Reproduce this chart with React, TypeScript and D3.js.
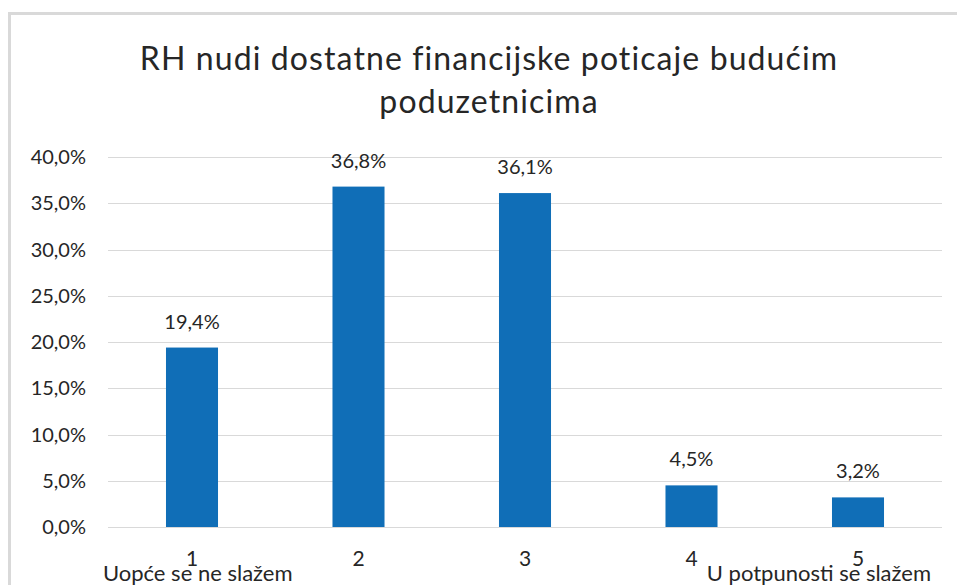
import React, { useRef, useEffect } from "react";
import * as d3 from "d3";

const categories = ["1", "2", "3", "4", "5"];
const values = [19.4, 36.8, 36.1, 4.5, 3.2];
const yTicks = [0, 5, 10, 15, 20, 25, 30, 35, 40];
const titleLines = ["RH nudi dostatne financijske poticaje budućim", "poduzetnicima"];
const endLabels = ["Uopće se ne slažem", "U potpunosti se slažem"];

const fmt = (v: number) => v.toFixed(1).replace(".", ",") + "%";

const App = () => {
  const ref = useRef<SVGSVGElement>(null);
  const width = 957;
  const height = 585;
  const font = "Lato, 'Open Sans', sans-serif";
  const ink = "#262626";

  useEffect(() => {
    const svg = d3.select(ref.current);
    svg.selectAll("*").remove();

    svg.append("rect").attr("width", width).attr("height", height).attr("fill", "#fff");

    // chart border (only left/top visible in crop)
    svg
      .append("rect")
      .attr("x", 9.5)
      .attr("y", 13.5)
      .attr("width", 1000)
      .attr("height", 700)
      .attr("fill", "none")
      .attr("stroke", "#d9d9d9")
      .attr("stroke-width", 3);

    const x = d3.scaleBand().domain(categories).range([108.75, 941.25]).paddingInner(0.6875).paddingOuter(0.34375);
    const y = d3.scaleLinear().domain([0, 40]).range([527, 157]);

    const g = svg.append("g");

    g.selectAll(".grid")
      .data(yTicks)
      .enter()
      .append("line")
      .attr("x1", 108)
      .attr("x2", 942)
      .attr("y1", (d) => Math.round(y(d)) + 0.5)
      .attr("y2", (d) => Math.round(y(d)) + 0.5)
      .attr("stroke", "#d9d9d9")
      .attr("stroke-width", 1);

    g.selectAll(".ylab")
      .data(yTicks)
      .enter()
      .append("text")
      .attr("x", 86)
      .attr("y", (d) => y(d) + 7)
      .attr("text-anchor", "end")
      .attr("font-family", font)
      .attr("font-size", 20)
      .attr("fill", ink)
      .text((d) => fmt(d));

    g.selectAll(".bar")
      .data(values)
      .enter()
      .append("rect")
      .attr("x", (_, i) => x(categories[i])!)
      .attr("width", x.bandwidth())
      .attr("y", (d) => y(d))
      .attr("height", (d) => y(0) - y(d))
      .attr("fill", "#106EB7");

    g.selectAll(".val")
      .data(values)
      .enter()
      .append("text")
      .attr("x", (_, i) => x(categories[i])! + x.bandwidth() / 2)
      .attr("y", (d) => y(d) - 19)
      .attr("text-anchor", "middle")
      .attr("font-family", font)
      .attr("font-size", 20)
      .attr("fill", ink)
      .text((d) => fmt(d));

    g.selectAll(".xlab")
      .data(categories)
      .enter()
      .append("text")
      .attr("x", (d) => x(d)! + x.bandwidth() / 2)
      .attr("y", 566)
      .attr("text-anchor", "middle")
      .attr("font-family", font)
      .attr("font-size", 21)
      .attr("fill", ink)
      .text((d) => d);

    svg
      .append("text")
      .attr("x", 103)
      .attr("y", 581)
      .attr("font-family", font)
      .attr("font-size", 22)
      .attr("fill", ink)
      .text(endLabels[0]);

    svg
      .append("text")
      .attr("x", 931)
      .attr("y", 581)
      .attr("text-anchor", "end")
      .attr("font-family", font)
      .attr("font-size", 22)
      .attr("fill", ink)
      .text(endLabels[1]);

    svg
      .selectAll(".title")
      .data(titleLines)
      .enter()
      .append("text")
      .attr("x", 489)
      .attr("y", (_, i) => 70 + i * 43)
      .attr("text-anchor", "middle")
      .attr("font-family", font)
      .attr("font-size", 32)
      .attr("letter-spacing", 1.1)
      .attr("fill", ink)
      .text((d) => d);
  }, []);

  return (
    <svg
      ref={ref}
      width={width}
      height={height}
      style={{ position: "absolute", left: 0, top: 0 }}
    ></svg>
  );
};

export default App;
